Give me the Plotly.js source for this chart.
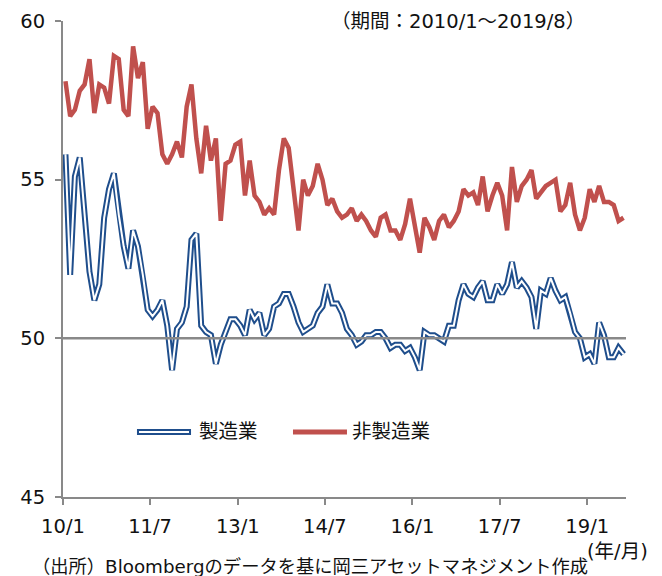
<!DOCTYPE html>
<html>
<head>
<meta charset="utf-8">
<script src="https://cdn.plot.ly/plotly-3.0.1.min.js"></script>
<style>
html,body{margin:0;padding:0;background:#fff;}
#chart{width:662px;height:576px;}
</style>
</head>
<body>
<div id="chart"></div>
<script>
// Monthly categories 2010/1 - 2019/8
var startYear = 2010, startMonth = 1, nMonths = 116;
var months = [];
for (var k = 0; k < nMonths; k++) {
  var m = startMonth - 1 + k;
  var yy = startYear + Math.floor(m / 12);
  var mm = (m % 12) + 1;
  months.push(yy + '-' + (mm < 10 ? '0' + mm : '' + mm));
}

// 製造業 (manufacturing)
var manufacturing = [
  55.8, 52.0, 55.1, 55.7, 53.9, 52.1, 51.2, 51.7, 53.8, 54.7, 55.2, 53.9,
  52.9, 52.2, 53.4, 52.9, 52.0, 50.9, 50.7, 50.9, 51.2, 50.4, 49.0, 50.3,
  50.5, 51.0, 53.1, 53.3, 50.4, 50.2, 50.1, 49.2, 49.8, 50.2, 50.6, 50.6,
  50.4, 50.1, 50.9, 50.6, 50.8, 50.1, 50.3, 51.0, 51.1, 51.4, 51.4, 51.0,
  50.5, 50.2, 50.3, 50.4, 50.8, 51.0, 51.7, 51.1, 51.1, 50.8, 50.3, 50.1,
  49.8, 49.9, 50.1, 50.1, 50.2, 50.2, 50.0, 49.7, 49.8, 49.8, 49.6, 49.7,
  49.4, 49.0, 50.2, 50.1, 50.1, 50.0, 49.9, 50.4, 50.4, 51.2, 51.7, 51.4,
  51.3, 51.6, 51.8, 51.2, 51.2, 51.7, 51.4, 51.7, 52.4, 51.6, 51.8, 51.6,
  51.3, 50.3, 51.5, 51.4, 51.9, 51.5, 51.2, 51.3, 50.8, 50.2, 50.0, 49.4,
  49.5, 49.2, 50.5, 50.1, 49.4, 49.4, 49.7, 49.5
];

// 非製造業 (non-manufacturing)
var nonManufacturing = [
  58.1, 57.0, 57.2, 57.8, 58.0, 58.8, 57.1, 58.0, 57.9, 57.4, 58.9, 58.8,
  57.2, 57.0, 59.2, 58.2, 58.7, 56.6, 57.3, 57.1, 55.8, 55.5, 55.8, 56.2,
  55.7, 57.3, 58.0, 56.3, 55.2, 56.7, 55.6, 56.3, 53.7, 55.5, 55.6, 56.1,
  56.2, 54.5, 55.6, 54.5, 54.3, 53.9, 54.1, 53.9, 55.3, 56.3, 56.0, 54.7,
  53.4, 55.0, 54.5, 54.8, 55.5, 55.0, 54.2, 54.4, 54.0, 53.8, 53.9, 54.1,
  53.7, 53.9, 53.7, 53.4, 53.2, 53.8, 53.9, 53.4, 53.4, 53.1, 53.6, 54.4,
  53.5, 52.7, 53.8, 53.5, 53.1, 53.7, 53.9, 53.5, 53.7, 54.0, 54.7, 54.5,
  54.6, 54.2, 55.1, 54.0, 54.5, 54.9, 54.5, 53.4, 55.4, 54.3, 54.8, 55.0,
  55.3, 54.4, 54.6, 54.8, 54.9, 55.0, 54.0, 54.2, 54.9, 53.9, 53.4, 53.8,
  54.7, 54.3, 54.8, 54.3, 54.3, 54.2, 53.7, 53.8
];

var xTickVals = ['2010-01-01', '2011-07-01', '2013-01-01', '2014-07-01', '2016-01-01', '2017-07-01', '2019-01-01'];
var xTickText = ['10/1', '11/7', '13/1', '14/7', '16/1', '17/7', '19/1'];
var yTickVals = [45, 50, 55, 60];
var seriesNames = ['製造業', '非製造業'];

var BLUE = '#1F4E8C', RED = '#C0504D', GRAY = '#898989';
var FONT = 'DejaVu Sans, "Noto Sans CJK JP", sans-serif';
var TXT = '#111111';

var common = {x: months, xperiod: 'M1', xperiodalignment: 'middle', mode: 'lines', showlegend: false, hoverinfo: 'skip'};

var traces = [
  Object.assign({}, common, {y: nonManufacturing, name: seriesNames[1], line: {color: RED, width: 4.5}}),
  Object.assign({}, common, {y: manufacturing, name: seriesNames[0], line: {color: BLUE, width: 6}}),
  Object.assign({}, common, {y: manufacturing, name: seriesNames[0], line: {color: '#ffffff', width: 2}})
];

var layout = {
  width: 662, height: 576,
  margin: {l: 63, r: 36, t: 21, b: 79},
  paper_bgcolor: '#ffffff', plot_bgcolor: '#ffffff',
  font: {family: FONT, size: 19, color: TXT},
  showlegend: false,
  xaxis: {
    type: 'date', range: ['2010-01-01', '2019-09-01'],
    tickvals: xTickVals, ticktext: xTickText,
    ticks: 'outside', ticklen: 6, tickwidth: 2, tickcolor: GRAY,
    showline: true, linecolor: GRAY, linewidth: 2,
    showgrid: false, zeroline: false, fixedrange: true,
    ticklabelstandoff: 5,
    tickfont: {family: FONT, size: 19.5, color: TXT}
  },
  yaxis: {
    range: [45, 60], tickvals: yTickVals,
    ticks: 'outside', ticklen: 6, tickwidth: 2, tickcolor: GRAY,
    showline: true, linecolor: GRAY, linewidth: 2,
    showgrid: false, zeroline: false, fixedrange: true,
    ticklabelstandoff: 6,
    tickfont: {family: FONT, size: 19.5, color: TXT}
  },
  shapes: [
    {type: 'line', xref: 'paper', yref: 'y', x0: 0, x1: 1, y0: 50, y1: 50, layer: 'above', line: {color: GRAY, width: 2.5}},
    // legend samples
    {type: 'line', xref: 'paper', yref: 'paper', x0: 0.1314, x1: 0.2274, y0: 0.1366, y1: 0.1366, line: {color: BLUE, width: 6}},
    {type: 'line', xref: 'paper', yref: 'paper', x0: 0.1350, x1: 0.2238, y0: 0.1366, y1: 0.1366, line: {color: '#ffffff', width: 2}},
    {type: 'line', xref: 'paper', yref: 'paper', x0: 0.4085, x1: 0.5044, y0: 0.1366, y1: 0.1366, line: {color: RED, width: 5}}
  ],
  annotations: [
    {xref: 'paper', yref: 'paper', x: 0.238, y: 0.1366, xanchor: 'left', yanchor: 'middle', text: seriesNames[0], showarrow: false, font: {family: FONT, size: 19.5, color: TXT}},
    {xref: 'paper', yref: 'paper', x: 0.5098, y: 0.1366, xanchor: 'left', yanchor: 'middle', text: seriesNames[1], showarrow: false, font: {family: FONT, size: 19.5, color: TXT}},
    {xref: 'paper', yref: 'paper', x: 0.472, y: 0.998, xanchor: 'left', yanchor: 'middle', text: '（期間：2010/1～2019/8）', showarrow: false, font: {family: FONT, size: 19.5, color: TXT}},
    {xref: 'paper', yref: 'paper', x: 1.0426, y: -0.115, xanchor: 'right', yanchor: 'middle', text: '(年/月)', showarrow: false, font: {family: FONT, size: 19.5, color: TXT}},
    {xref: 'paper', yref: 'paper', x: -0.0586, y: -0.147, xanchor: 'left', yanchor: 'middle', text: '（出所）Bloombergのデータを基に岡三アセットマネジメント作成', showarrow: false, font: {family: FONT, size: 18.3, color: TXT}}
  ]
};

Plotly.newPlot('chart', traces, layout, {staticPlot: true, displayModeBar: false});
</script>
</body>
</html>
